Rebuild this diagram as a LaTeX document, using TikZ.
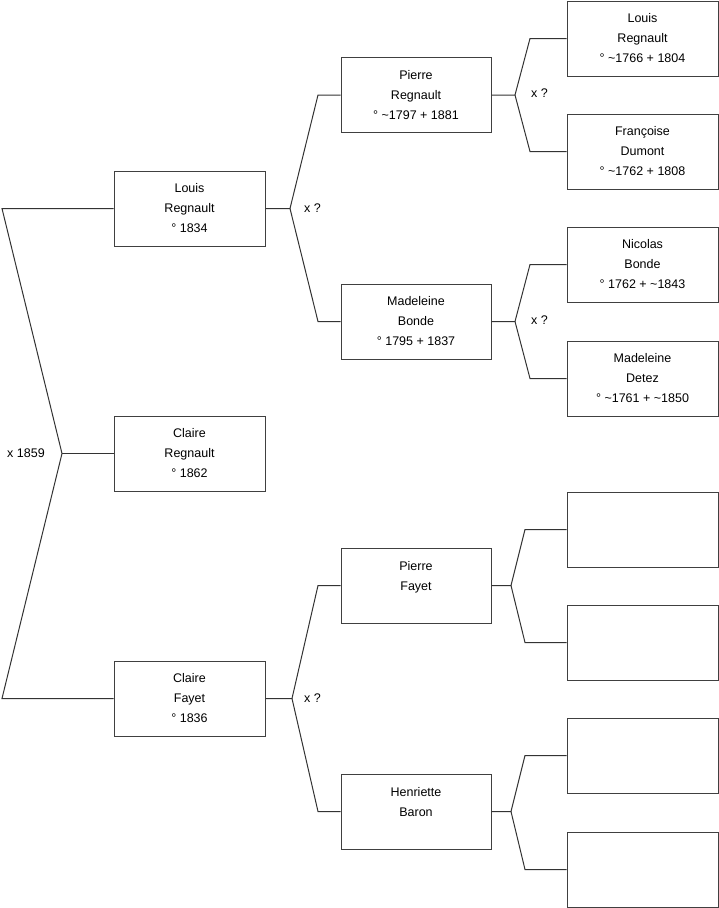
\documentclass[tikz,border=0pt]{standalone}
\usepackage{fontspec}
\setmainfont{Liberation Sans}
\begin{document}
\begin{tikzpicture}[x=1pt,y=-1pt,
  person/.style={draw=black!75, line width=1pt, minimum width=151pt, minimum height=75pt,
    align=center, inner sep=0pt, font=\fontsize{12.5}{20}\selectfont},
  link/.style={draw=black!80, line width=1pt},
  marr/.style={font=\fontsize{12.5}{14}\selectfont, inner sep=0pt, anchor=west}]
\useasboundingbox (0,0) rectangle (719,908);
% generation 1
\node[person] (lr) at (189.5,208.5) {Louis\\Regnault\\° 1834};
\node[person] (cr) at (189.5,453.5) {Claire\\Regnault\\° 1862};
\node[person] (cf) at (189.5,698.5) {Claire\\Fayet\\° 1836};
% generation 2
\node[person, minimum width=150pt] (pr) at (416,95) {Pierre\\Regnault\\° \textasciitilde1797 + 1881};
\node[person, minimum width=150pt] (mb) at (416,321.5) {Madeleine\\Bonde\\° 1795 + 1837};
\node[person, minimum width=150pt] (pf) at (416,585.5) {Pierre\\Fayet\\~};
\node[person, minimum width=150pt] (hb) at (416,811.5) {Henriette\\Baron\\~};
% generation 3
\node[person] (lr2) at (642.5,38.5) {Louis\\Regnault\\° \textasciitilde1766 + 1804};
\node[person] (fd) at (642.5,151.5) {Françoise\\Dumont\\° \textasciitilde1762 + 1808};
\node[person] (nb) at (642.5,264.5) {Nicolas\\Bonde\\° 1762 + \textasciitilde1843};
\node[person] (md) at (642.5,378.5) {Madeleine\\Detez\\° \textasciitilde1761 + \textasciitilde1850};
\node[person] (e1) at (642.5,529.5) {};
\node[person] (e2) at (642.5,642.5) {};
\node[person] (e3) at (642.5,755.5) {};
\node[person] (e4) at (642.5,869.5) {};
% bracket coordinates
\coordinate (t0) at (2,208.5);
\coordinate (v0) at (62,453.5);
\coordinate (b0) at (2,698.5);
\coordinate (v1) at (290,208.5);
\coordinate (t1) at (318,95);
\coordinate (b1) at (318,321.5);
\coordinate (v2) at (292,698.5);
\coordinate (t2) at (318,585.5);
\coordinate (b2) at (318,811.5);
\coordinate (v3) at (515,95);
\coordinate (t3) at (530,38.5);
\coordinate (b3) at (530,151.5);
\coordinate (v4) at (515,321.5);
\coordinate (t4) at (530,264.5);
\coordinate (b4) at (530,378.5);
\coordinate (v5) at (511,585.5);
\coordinate (t5) at (525,529.5);
\coordinate (b5) at (525,642.5);
\coordinate (v6) at (511,811.5);
\coordinate (t6) at (525,755.5);
\coordinate (b6) at (525,869.5);
% connectors
\draw[link] (lr.west) -- (t0) -- (v0) -- (b0) -- (cf.west);
\draw[link] (v0) -- (cr.west);
\draw[link] (lr.east) -- (v1) -- (t1) -- (pr.west);
\draw[link] (v1) -- (b1) -- (mb.west);
\draw[link] (cf.east) -- (v2) -- (t2) -- (pf.west);
\draw[link] (v2) -- (b2) -- (hb.west);
\draw[link] (pr.east) -- (v3) -- (t3) -- (lr2.west);
\draw[link] (v3) -- (b3) -- (fd.west);
\draw[link] (mb.east) -- (v4) -- (t4) -- (nb.west);
\draw[link] (v4) -- (b4) -- (md.west);
\draw[link] (pf.east) -- (v5) -- (t5) -- (e1.west);
\draw[link] (v5) -- (b5) -- (e2.west);
\draw[link] (hb.east) -- (v6) -- (t6) -- (e3.west);
\draw[link] (v6) -- (b6) -- (e4.west);
% marriage labels
\node[marr] (m0) at (7,453.5) {x 1859};
\node[marr] (m1) at (304,208.5) {x ?};
\node[marr] (m2) at (304,698.5) {x ?};
\node[marr] (m3) at (531,93) {x ?};
\node[marr] (m4) at (531,320) {x ?};
\end{tikzpicture}
\end{document}
